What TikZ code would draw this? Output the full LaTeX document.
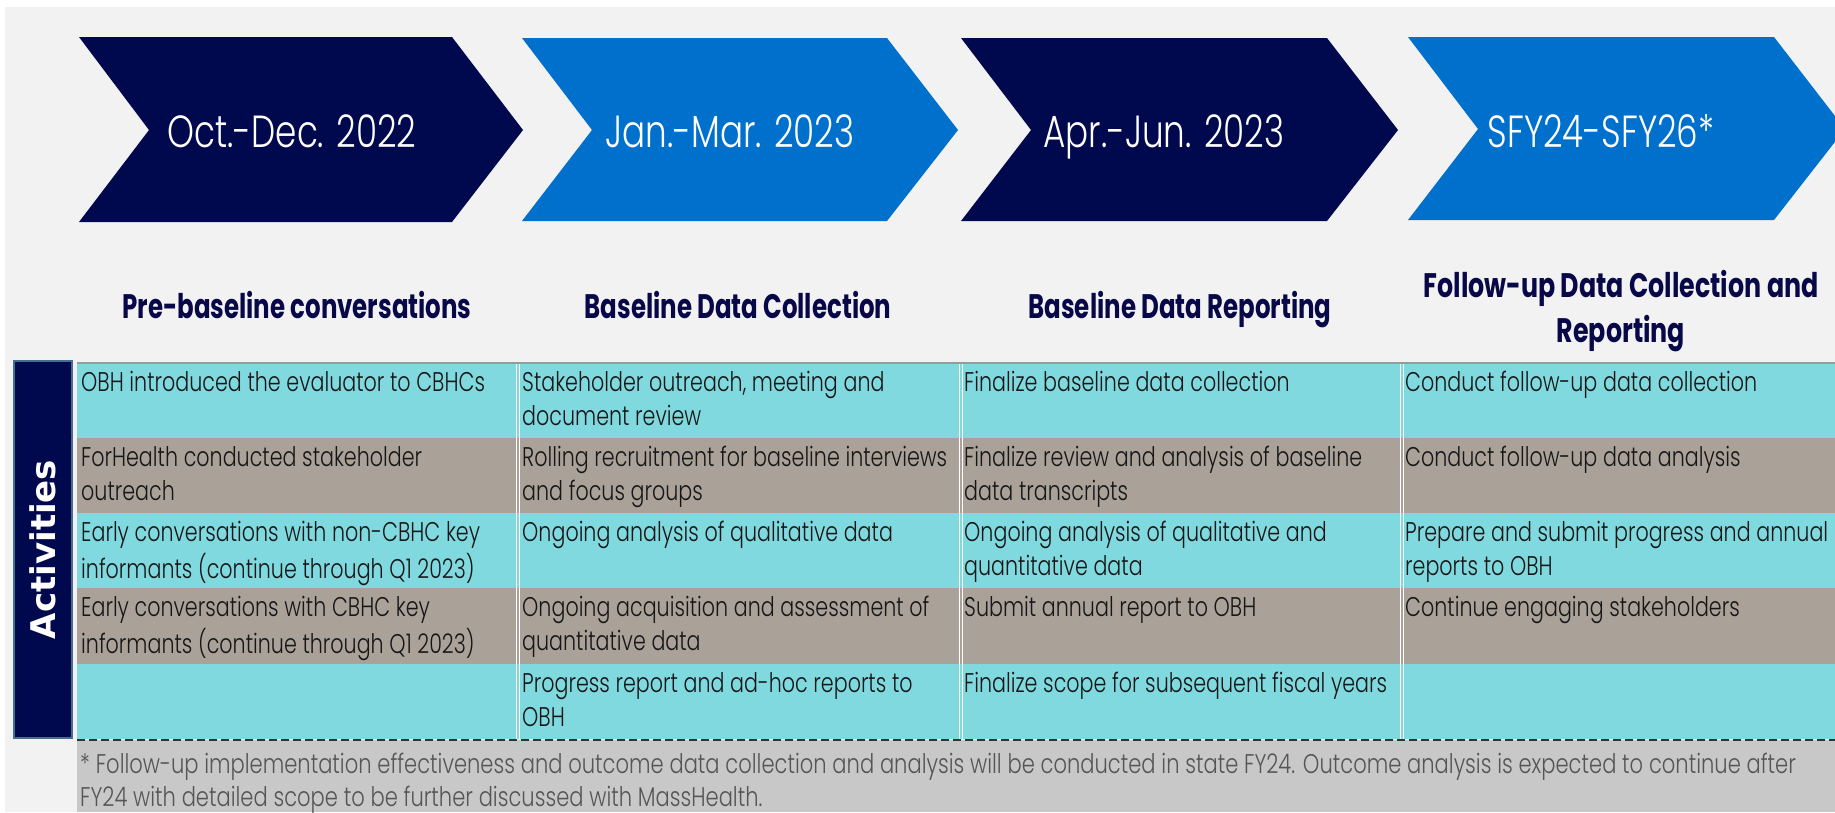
\documentclass[tikz,border=0pt]{standalone}
\usepackage{fontspec}
\setmainfont{Poppins}
\newfontfamily\chevf{Poppins Light}[FakeStretch=0.76]
\newfontfamily\lightf{Poppins Light}[FakeStretch=0.765]
\newfontfamily\footf{Poppins Light}[FakeStretch=0.78]
\newfontfamily\headf{Poppins}[FakeStretch=0.72]
\newfontfamily\headg{Poppins}[FakeStretch=0.745]
\newfontfamily\actf{DejaVu Sans}
\definecolor{navy}{RGB}{0,8,78}
\definecolor{bblue}{RGB}{0,112,205}
\definecolor{bgc}{RGB}{242,242,242}
\definecolor{cyanc}{RGB}{128,217,223}
\definecolor{taupe}{RGB}{170,161,152}
\definecolor{footg}{RGB}{200,200,200}
\definecolor{foott}{RGB}{85,85,85}
\definecolor{celltxt}{RGB}{22,22,22}
\definecolor{steel}{RGB}{70,110,145}
\definecolor{headc}{RGB}{8,8,72}
\tikzset{
  chevtxt/.style={anchor=base, text=white, inner sep=0, font=\chevf\fontsize{45}{50}\selectfont},
  headtxt/.style={text=headc, inner sep=0, align=center, font=\headf\bfseries\fontsize{34}{45}\selectfont},
  celltxt/.style={anchor=north west, text=celltxt, align=left, inner sep=0, font=\lightf\fontsize{27}{34}\selectfont},
  foottxt/.style={anchor=north west, text=foott, align=left, inner sep=0, font=\footf\fontsize{27}{33}\selectfont},
  sepline/.style={white, line width=1pt},
}
\begin{document}
\begin{tikzpicture}[x=1pt,y=-1pt]
\useasboundingbox (0,0) rectangle (1835,812);
\clip (0,0) rectangle (1835,812);
\fill[white] (0,0) rectangle (1835,812);
\fill[bgc] (5,7) rectangle (1835,812);
% chevrons
\fill[navy]  (79,37) -- (452,37) -- (523,130) -- (452,222) -- (79,222) -- (149,130) -- cycle;
\fill[bblue] (522,38) -- (887,38) -- (958,130) -- (887,221) -- (522,221) -- (592,130) -- cycle;
\fill[navy]  (961,38) -- (1327,38) -- (1398,130) -- (1327,221) -- (961,221) -- (1031,130) -- cycle;
\fill[bblue] (1408,37) -- (1774,37) -- (1845,129) -- (1774,220) -- (1408,220) -- (1478,129) -- cycle;
\node[chevtxt] (ch1) at (292,147) {Oct.-Dec. 2022};
\node[chevtxt] (ch2) at (730,147) {Jan.-Mar. 2023};
\node[chevtxt] (ch3) at (1164,147) {Apr.-Jun. 2023};
\node[chevtxt] (ch4) at (1601,147) {SFY24-SFY26*};
% headings
\node[headtxt, anchor=base] (h1) at (297,318.5) {Pre-baseline conversations};
\node[headtxt, anchor=base] (h2) at (738,318.5) {Baseline Data Collection};
\node[headtxt, anchor=base] (h3) at (1180,318.5) {Baseline Data Reporting};
\node[headtxt, anchor=north, font=\headg\bfseries\fontsize{34}{45}\selectfont] (h4) at (1621,265) {\rule{0pt}{32pt}Follow-up Data Collection and\\Reporting};
% table rows
\fill[cyanc] (77,363) rectangle (1835,438);
\fill[taupe] (77,438) rectangle (1835,513);
\fill[cyanc] (77,513) rectangle (1835,588);
\fill[taupe] (77,588) rectangle (1835,664);
\fill[cyanc] (77,664) rectangle (1835,739);
\draw[gray!80, line width=1.2pt] (77,363) -- (1835,363);
\foreach \xx in {516.5,959.5,1400.5}{
  \draw[sepline] (\xx,364) -- (\xx,739);
  \draw[sepline] (\xx+2.5,364) -- (\xx+2.5,739);
}
% activities bar
\node[draw=steel, line width=2pt, fill=navy, rotate=90, minimum width=377pt, minimum height=58pt, inner sep=0,
      text=white, font=\actf\bfseries\fontsize{34}{40}\selectfont] (act) at (42.5,549.5) {Activities};
% cells
\node[celltxt] (c11) at (81,367.7) {\strut OBH introduced the evaluator to CBHCs};
\node[celltxt] (c12) at (81,442.7) {\strut ForHealth conducted stakeholder\\outreach};
\node[celltxt] (c13) at (81,517.7) {\strut Early conversations with non-CBHC key\\informants (continue through Q1 2023)};
\node[celltxt] (c14) at (81,592.7) {\strut Early conversations with CBHC key\\informants (continue through Q1 2023)};
\node[celltxt] (c21) at (522,367.7) {\strut Stakeholder outreach, meeting and\\document review};
\node[celltxt] (c22) at (522,442.7) {\strut Rolling recruitment for baseline interviews\\and focus groups};
\node[celltxt] (c23) at (522,517.7) {\strut Ongoing analysis of qualitative data};
\node[celltxt] (c24) at (522,592.7) {\strut Ongoing acquisition and assessment of\\quantitative data};
\node[celltxt] (c25) at (522,668.7) {\strut Progress report and ad-hoc reports to\\OBH};
\node[celltxt] (c31) at (964,367.7) {\strut Finalize baseline data collection};
\node[celltxt] (c32) at (964,442.7) {\strut Finalize review and analysis of baseline\\data transcripts};
\node[celltxt] (c33) at (964,517.7) {\strut Ongoing analysis of qualitative and\\quantitative data};
\node[celltxt] (c34) at (964,592.7) {\strut Submit annual report to OBH};
\node[celltxt] (c35) at (964,668.7) {\strut Finalize scope for subsequent fiscal years};
\node[celltxt] (c41) at (1405,367.7) {\strut Conduct follow-up data collection};
\node[celltxt] (c42) at (1405,442.7) {\strut Conduct follow-up data analysis};
\node[celltxt] (c43) at (1405,517.7) {\strut Prepare and submit progress and annual\\reports to OBH};
\node[celltxt] (c44) at (1405,592.7) {\strut Continue engaging stakeholders};
% footnote
\fill[footg] (77,740) rectangle (1835,812);
\draw[black!80, line width=1.5pt, dash pattern=on 8pt off 4pt] (77,740) -- (1835,740);
\node[foottxt] (fn) at (80,749.9) {\strut * Follow-up implementation effectiveness and outcome data collection and analysis will be conducted in state FY24. Outcome analysis is expected to continue after\\FY24 with detailed scope to be further discussed with MassHealth.};
\end{tikzpicture}
\end{document}
